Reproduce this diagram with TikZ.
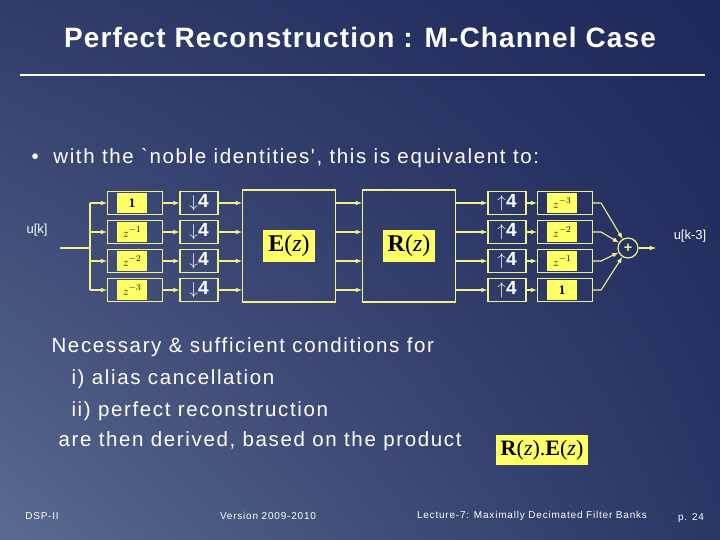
\documentclass[tikz,border=0pt]{standalone}
\usepackage{fontspec}
\setmainfont{Liberation Sans}
\newfontfamily\serifm{Liberation Serif}
\newfontfamily\wide[LetterSpace=8]{Liberation Sans}
\newfontfamily\wideT[LetterSpace=4]{Liberation Sans}
\usetikzlibrary{shadings}
\definecolor{ln}{HTML}{F2F08A}
\definecolor{yp}{HTML}{FFFF66}
\definecolor{bgA}{HTML}{5A6A90}
\definecolor{bgB}{HTML}{1E285A}
\begin{document}
\begin{tikzpicture}[x=1pt,y=-1pt,
  bx/.style={draw=ln,line width=1.2pt,minimum height=23pt,inner sep=0pt},
  dl/.style={bx,minimum width=55pt},
  ds/.style={bx,minimum width=38pt,text=white,font=\bfseries\fontsize{19}{19}\selectfont},
  pt/.style={fill=yp,inner sep=1.5pt,text=black},
  dp/.style={pt,minimum height=20pt,minimum width=30pt,font=\serifm\itshape\fontsize{13}{13}\selectfont},
  ar/.style={->,>=latex,draw=ln,line width=1.1pt},
  tx/.style={text=white,font=\wide\fontsize{20.5}{22}\selectfont,anchor=west},
  ft/.style={text=white,font=\wide\fontsize{10}{11}\selectfont}]
\useasboundingbox (0,0) rectangle (720,540);
\shade[lower left=bgA,lower right=bgB!80!bgA,upper left=bgB!70!bgA,upper right=bgB] (0,0) rectangle (720,540);
\node[text=white,font=\wideT\bfseries\fontsize{28}{30}\selectfont] (title) at (360,37) {Perfect Reconstruction : M-Channel Case};
\draw[white,line width=2.5pt] (20,75) -- (705,75);
\node[tx] (b) at (28,158) {•\ \ with the `noble identities', this is equivalent to:};
\node[text=white,font=\fontsize{13}{14}\selectfont] (uk) at (37,230) {u[k]};
\node[text=white,font=\fontsize{13}{14}\selectfont] (uk3) at (690,236) {u[k-3]};
\foreach \i/\y/\a/\b in {1/203/{\upshape\bfseries 1}/{$z^{-3}$},2/232/{$z^{-1}$}/{$z^{-2}$},3/261/{$z^{-2}$}/{$z^{-1}$},4/290/{$z^{-3}$}/{\upshape\bfseries 1}}{
  \node[dl] (d\i) at (135,\y) {};
  \node[dp,anchor=west] (dp\i) at ([xshift=10pt]d\i.west) {\a};
  \node[ds] (s\i) at (199,\y) {$\downarrow$4};
  \node[ds] (u\i) at (507,\y) {$\uparrow$4};
  \node[dl] (e\i) at (565,\y) {};
  \node[dp,anchor=west] (ep\i) at ([xshift=10pt]e\i.west) {\b};
  \draw[ar] (d\i) -- (s\i);
  \draw[ar] (u\i) -- (e\i);
  \coordinate (sp\i) at (90,\y);
  \draw[ar] (sp\i) -- (d\i);
}
\node[draw=ln,line width=1.2pt,minimum width=93pt,minimum height=112pt] (E) at (289,246) {};
\node[draw=ln,line width=1.2pt,minimum width=93pt,minimum height=112pt] (R) at (409,246) {};
\node[pt,font=\serifm\fontsize{24}{26}\selectfont,inner sep=5pt] (Ep) at (E) {\textbf{E}(\textit{z})};
\node[pt,font=\serifm\fontsize{24}{26}\selectfont,inner sep=5pt] (Rp) at (R) {\textbf{R}(\textit{z})};
\foreach \i/\y in {1/203,2/232,3/261,4/290}{
  \draw[ar] (s\i) -- (E.west|-s\i);
  \draw[ar] (E.east|-s\i) -- (R.west|-s\i);
  \draw[ar] (R.east|-u\i) -- (u\i);
}
\coordinate (in) at (60,248);
\draw[draw=ln,line width=1.1pt] (in) -- (90,248);
\draw[draw=ln,line width=1.1pt] (sp1) -- (sp4);
\node[circle,draw=ln,line width=1.2pt,minimum size=20pt,inner sep=0pt,text=ln,font=\bfseries\Large] (sum) at (628,248) {+};
\foreach \i in {1,...,4}{
  \draw[ar] (e\i.east) -- ++(8,0) -- (sum);
}
\coordinate (out) at (656,248);
\draw[ar] (sum) -- (out);
\node[tx] (t1) at (48,347) {Necessary \& sufficient conditions for};
\node[tx] (t2) at (68,379) {i) alias cancellation};
\node[tx] (t3) at (68,411) {ii) perfect reconstruction};
\node[tx] (t4) at (55,441) {are then derived, based on the product};
\node[pt,font=\serifm\fontsize{22}{24}\selectfont,inner sep=5pt] (RE) at (542,450) {\textbf{R}(\textit{z}).\textbf{E}(\textit{z})};
\node[ft] (f1) at (42,516) {DSP-II};
\node[ft] (f2) at (268,516) {Version 2009-2010};
\node[ft] (f3) at (532,516) {Lecture-7: Maximally Decimated Filter Banks};
\node[ft] (f4) at (691,518) {p. 24};
\end{tikzpicture}
\end{document}
